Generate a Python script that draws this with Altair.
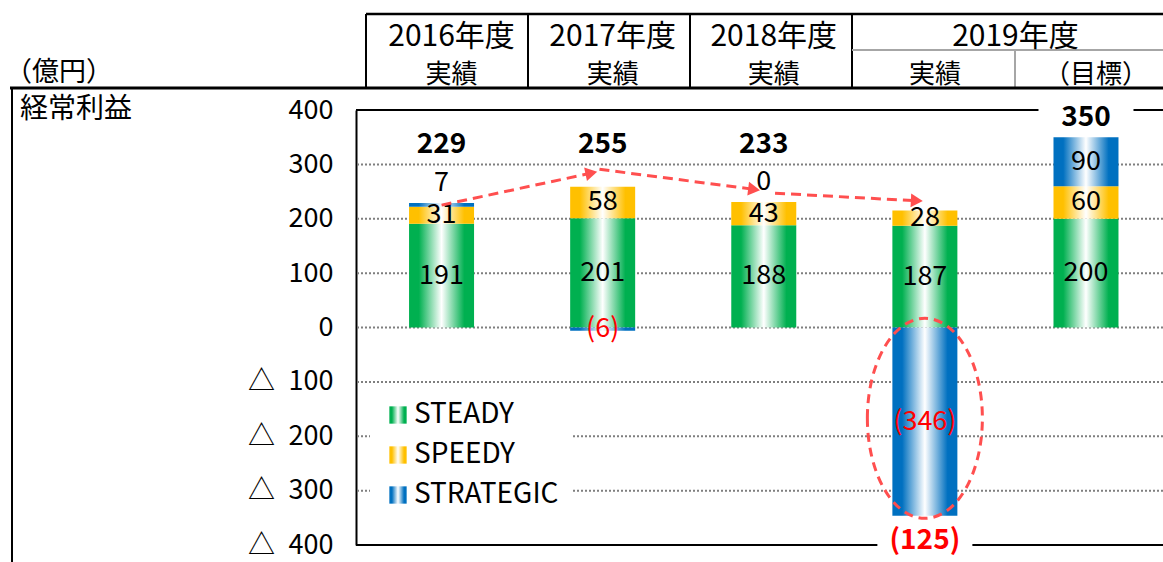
import math
import altair as alt
import pandas as pd

# ---------------- data ----------------
slots = [0, 1, 2, 3, 4]
sub_labels = ["実績", "実績", "実績", "実績", "（目標）"]
header_years = ["2016年度", "2017年度", "2018年度", "2019年度"]
header_year_slot = [0, 1, 2, 3.5]
series = ["STEADY", "SPEEDY", "STRATEGIC"]
series_colors = ["#00B050", "#FFC000", "#0070C0"]
steady = [191, 201, 188, 187, 200]
speedy = [31, 58, 43, 28, 60]
strategic = [7, -6, 0, -346, 90]
totals = [229, 255, 233, -125, 350]
y_ticks = [-400, -300, -200, -100, 0, 100, 200, 300, 400]
grid_values = [-300, -200, -100, 0, 100, 200, 300]
border_values = [-400, 400]
arrow_from_slot = [0.0, 0.98, 2.07]
arrow_from_val = [225, 291, 247]
arrow_to_slot = [0.93, 1.94, 2.95]
arrow_to_val = [284, 254, 233]

# ---------------- geometry ----------------
LEFT, TOP, W, H = 356, 110, 807, 435
X_DOMAIN = [-0.5, 4.447]
Y_DOMAIN = [-400, 400]
PX_X = W / (X_DOMAIN[1] - X_DOMAIN[0])
PX_Y = H / (Y_DOMAIN[1] - Y_DOMAIN[0])

FONT = "Noto Sans CJK JP"
RED = "#FF0000"
DASH_RED = "#FF4F4F"


def grad(c):
    return (
        "{gradient:'linear',x1:0,y1:0,x2:1,y2:0,stops:["
        + "{offset:0,color:'" + c + "'},"
        + "{offset:0.15,color:'" + c + "'},"
        + "{offset:0.5,color:'#FFFFFF'},"
        + "{offset:0.85,color:'" + c + "'},"
        + "{offset:1,color:'" + c + "'}]}"
    )


# ---------------- tables ----------------
rows, tot_rows = [], []
for i in slots:
    pos, neg = 0, 0
    for k, (name, vals) in enumerate(zip(series, [steady, speedy, strategic])):
        v = vals[i]
        if v >= 0:
            y0, y1 = pos, pos + v
            pos += v
        else:
            y0, y1 = neg, neg + v
            neg += v
        ly = y1 + 36 if 0 <= v < 15 else (y0 + y1) / 2
        rows.append(dict(idx=i, series=name, order=k, y0=y0, y1=y1, ly=ly,
                         label=str(v) if v >= 0 else f"({-v})", neg=v < 0, v=v))
    t = totals[i]
    ty = max(pos, 300) + 35 if t > 0 else neg - 46
    tot_rows.append(dict(idx=i, ty=ty, label=str(t) if t >= 0 else f"({-t})", neg=t < 0))

bars = pd.DataFrame(rows)
tots = pd.DataFrame(tot_rows)
big_neg = bars[bars["v"] < -100].copy()
big_neg["cy"] = big_neg["ly"] + 6

arrows = pd.DataFrame(dict(xf=arrow_from_slot, yf=arrow_from_val, xt=arrow_to_slot, yt=arrow_to_val))
arrows["ang"] = [
    (math.degrees(math.atan2(-(b - a) * PX_Y, (d - c) * PX_X)) + 360) % 360
    for a, b, c, d in zip(arrows.yf, arrows.yt, arrows.xf, arrows.xt)
]

head_top = pd.DataFrame(dict(idx=header_year_slot, label=header_years))
head_sub = pd.DataFrame(dict(idx=slots, label=sub_labels))

# ---------------- scales ----------------
xs = alt.Scale(domain=X_DOMAIN, nice=False, zero=False)
ys = alt.Scale(domain=Y_DOMAIN, nice=False, zero=False)
X = alt.X("idx:Q", scale=xs, axis=None)

yaxis = alt.Axis(
    values=y_ticks,
    labelExpr="datum.value < 0 ? '△\u2002' + abs(datum.value) : '' + datum.value",
    grid=False, ticks=False, domain=True, domainColor="black", domainWidth=2,
    labelFontSize=27, labelFont=FONT, labelColor="black", labelPadding=23,
    labelOverlap=False, title=None,
)


def Y(field):
    return alt.Y(field, scale=ys, axis=yaxis)


grid = alt.Chart(pd.DataFrame({"v": grid_values})).mark_rule(
    color="#7F7F7F", strokeWidth=2, strokeDash=[2, 2]
).encode(y=Y("v:Q"))

borders = alt.Chart(pd.DataFrame({"v": border_values})).mark_rule(
    color="black", strokeWidth=2
).encode(y=Y("v:Q"))

bar_layer = alt.Chart(bars).mark_bar(size=65).encode(
    x=X,
    y=Y("y1:Q"),
    y2="y0:Q",
    color=alt.Color(
        "series:N",
        scale=alt.Scale(domain=series, range=[alt.ExprRef(expr=grad(c)) for c in series_colors]),
        legend=alt.Legend(
            title=None, orient="none", legendX=14, legendY=277,
            symbolType="square", symbolSize=300, symbolStrokeWidth=0,
            labelFontSize=28, labelFont=FONT, labelColor="black", labelOffset=2,
            rowPadding=12, padding=14, fillColor="white", labelLimit=400,
        ),
    ),
)

patch = alt.Chart(tots).mark_point(
    shape="M-1,-0.3H1V0.3H-1Z", filled=True, fill="white", size=95 ** 2,
    opacity=1, strokeWidth=0,
).encode(x=X, y=Y("ty:Q"))

tot_pos = alt.Chart(tots[~tots.neg]).mark_text(
    fontSize=28, fontWeight="bold", font=FONT, color="black", baseline="middle"
).encode(x=X, y=Y("ty:Q"), text="label:N")

tot_neg = alt.Chart(tots[tots.neg]).mark_text(
    fontSize=28, fontWeight="bold", font=FONT, color=RED, baseline="middle"
).encode(x=X, y=Y("ty:Q"), text="label:N")

lab_pos = alt.Chart(bars[~bars.neg]).mark_text(
    fontSize=27, font=FONT, color="black", baseline="middle"
).encode(x=X, y=Y("ly:Q"), text="label:N")

lab_neg = alt.Chart(bars[bars.neg]).mark_text(
    fontSize=27, font=FONT, color=RED, baseline="middle"
).encode(x=X, y=Y("ly:Q"), text="label:N")

arrow_lines = alt.Chart(arrows).mark_rule(
    color=DASH_RED, strokeWidth=3, strokeDash=[10, 6]
).encode(
    x=alt.X("xf:Q", scale=xs, axis=None), x2="xt:Q",
    y=Y("yf:Q"), y2="yt:Q",
)

arrow_heads = alt.Chart(arrows).mark_point(
    shape="triangle-right", filled=True, size=190, color=DASH_RED, opacity=1
).encode(
    x=alt.X("xt:Q", scale=xs, axis=None),
    y=Y("yt:Q"),
    angle=alt.Angle("ang:Q", scale=None),
)

ellipse = alt.Chart(big_neg).mark_point(
    shape="M-0.575,0A0.575,1,0,1,1,0.575,0A0.575,1,0,1,1,-0.575,0Z",
    size=40000, filled=False, stroke=DASH_RED, strokeWidth=3,
    strokeDash=[9, 6], opacity=1,
).encode(x=X, y=Y("cy:Q"))

# ---------------- header table & side labels ----------------
dummy = pd.DataFrame({"a": [0]})


def line(x1, x2, y1, y2, color="black", w=2):
    return alt.Chart(dummy).mark_rule(color=color, strokeWidth=w).encode(
        x=alt.value(x1), x2=alt.value(x2), y=alt.value(y1), y2=alt.value(y2)
    )


header_lines = [
    line(10, 807, -96, -96, w=2.5),
    line(10, 10, -96, -22),
    line(172, 172, -96, -22),
    line(334, 334, -96, -22),
    line(496, 496, -96, -22),
    line(496, 807, -60, -60, color="#A6A6A6"),
    line(659, 659, -60, -22, color="#A6A6A6"),
    line(-346, 807, -22, -22, w=3),
    line(-344, -344, -22, 452, w=2),
]

head_top_txt = alt.Chart(head_top).mark_text(
    fontSize=30, font=FONT, color="black", baseline="middle", dx=10
).encode(x=X, y=alt.value(-73), text="label:N")

head_sub_txt = alt.Chart(head_sub).mark_text(
    fontSize=26, font=FONT, color="black", baseline="middle", dx=10
).encode(x=X, y=alt.value(-35), text="label:N")

unit_txt = alt.Chart(dummy).mark_text(
    text="（億円）", fontSize=27, font=FONT, color="black", align="left", baseline="middle"
).encode(x=alt.value(-351), y=alt.value(-37))

name_txt = alt.Chart(dummy).mark_text(
    text="経常利益", fontSize=28, font=FONT, color="black", align="left", baseline="middle"
).encode(x=alt.value(-336), y=alt.value(0))

chart = alt.layer(
    grid, borders, bar_layer, patch, tot_pos, tot_neg, lab_pos, lab_neg,
    arrow_lines, arrow_heads, ellipse, *header_lines,
    head_top_txt, head_sub_txt, unit_txt, name_txt,
).properties(
    width=W, height=H,
    padding={"left": LEFT, "top": TOP, "right": 0, "bottom": 17},
    autosize=alt.AutoSizeParams(type="none"),
).configure_view(stroke=None)

chart.save("out.html", embed_options={"renderer": "svg", "actions": False})
